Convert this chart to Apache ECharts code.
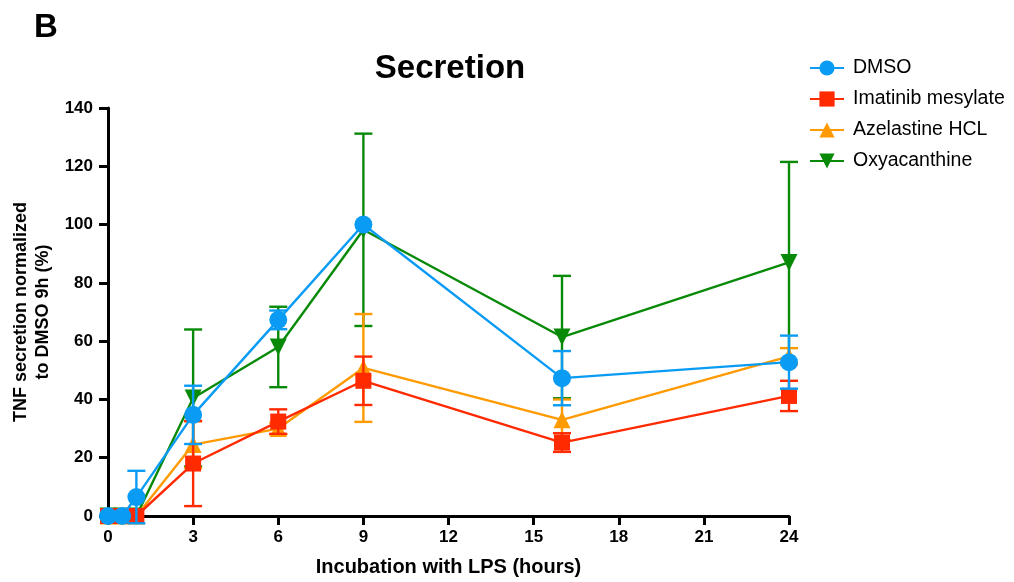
<!DOCTYPE html>
<html>
<head>
<meta charset="utf-8">
<script src="https://cdn.jsdelivr.net/npm/echarts@6/dist/echarts.min.js"></script>
<style>html,body{margin:0;padding:0;background:#fff}#c{width:1014px;height:582px}</style>
</head>
<body>
<div id="c"></div>
<script>
const times = [0, 0.5, 1, 3, 6, 9, 16, 24];
const seriesNames = ['DMSO', 'Imatinib mesylate', 'Azelastine HCL', 'Oxyacanthine'];
const dmsoMean = [0, 0, 6.5, 34.7, 67.3, 100, 47.3, 52.8];
const dmsoErr  = [0, 0, 9, 10, 3.2, 0, 9.3, 9.1];
const imaMean  = [0, 0, 0, 18, 32.4, 46.4, 25.2, 41.2];
const imaErr   = [0, 0, 0, 14.6, 4.2, 8.3, 3.2, 5.2];
const azeMean  = [0, 0, 0, 24.5, 30, 50.8, 33, 54.8];
const azeErr   = [0, 0, 0, 8, 2, 18.5, 7, 2.8];
const oxyMean  = [0, 0, 0, 40.5, 58, 98.2, 61.4, 87];
const oxyErr   = [0, 0, 0, 23.5, 13.8, 33, 21, 34.5];
const xTicks = [0, 3, 6, 9, 12, 15, 18, 21, 24];
const yTicks = [0, 20, 40, 60, 80, 100, 120, 140];

const colors = ['#0a9bf5', '#ff2a00', '#ff9a00', '#088a08'];
const symbols = ['circle', 'rect', 'triangle', 'triangle'];
const rot = [0, 0, 0, 180];
const sizes = [18, 16, 17, 17];
const means = [dmsoMean, imaMean, azeMean, oxyMean];
const errs = [dmsoErr, imaErr, azeErr, oxyErr];
const zOrder = [40, 30, 20, 10];
const FONT = '"Liberation Sans", Arial, sans-serif';

const series = [];
seriesNames.forEach((name, i) => {
  series.push({
    name: name,
    type: 'line',
    data: times.map((t, k) => [t, means[i][k]]),
    symbol: symbols[i],
    symbolRotate: rot[i],
    symbolSize: sizes[i],
    showAllSymbol: true,
    lineStyle: { color: colors[i], width: 2.4 },
    itemStyle: { color: colors[i] },
    z: zOrder[i] + 2,
    animation: false
  });
  series.push({
    name: name,
    type: 'custom',
    data: times.map((t, k) => [t, means[i][k], errs[i][k]]),
    z: zOrder[i],
    renderItem: function (params, api) {
      const x = api.value(0), m = api.value(1), e = api.value(2);
      if (!e) return;
      const top = api.coord([x, m + e]);
      const bot = api.coord([x, m - e]);
      const hw = 9;
      const st = { stroke: colors[i], lineWidth: 2.4 };
      return {
        type: 'group',
        children: [
          { type: 'line', shape: { x1: top[0], y1: top[1], x2: bot[0], y2: bot[1] }, style: st },
          { type: 'line', shape: { x1: top[0] - hw, y1: top[1], x2: top[0] + hw, y2: top[1] }, style: st },
          { type: 'line', shape: { x1: bot[0] - hw, y1: bot[1], x2: bot[0] + hw, y2: bot[1] }, style: st }
        ]
      };
    },
    animation: false
  });
});

const chart = echarts.init(document.getElementById('c'));
chart.setOption({
  backgroundColor: '#fff',
  animation: false,
  graphic: [
    { type: 'text', left: 34, top: 11, style: { text: 'B', font: 'bold 33px ' + FONT, fill: '#000' } }
  ],
  title: {
    text: 'Secretion',
    left: 445, top: 47, textAlign: 'center',
    textStyle: { fontFamily: FONT, fontWeight: 'bold', fontSize: 33, color: '#000' }
  },
  legend: {
    orient: 'vertical',
    left: 804, top: 53,
    itemWidth: 34, itemHeight: 19, itemGap: 11,
    data: seriesNames,
    textStyle: { fontFamily: FONT, fontSize: 19.5, color: '#000', padding: [0, 0, 0, 4] }
  },
  grid: { left: 108, right: 225, top: 108, bottom: 66, containLabel: false },
  xAxis: {
    type: 'value', min: 0, max: 24, interval: 3,
    name: 'Incubation with LPS (hours)', nameLocation: 'middle', nameGap: 41,
    nameTextStyle: { fontFamily: FONT, fontWeight: 'bold', fontSize: 20, color: '#000' },
    axisLine: { lineStyle: { color: '#000', width: 3 } },
    axisTick: { show: true, length: 9, lineStyle: { color: '#000', width: 3 } },
    axisLabel: { fontFamily: FONT, fontWeight: 'bold', fontSize: 17, color: '#000', margin: 13,
      formatter: v => xTicks.includes(v) ? String(v) : '' },
    splitLine: { show: false }
  },
  yAxis: {
    type: 'value', min: 0, max: 140, interval: 20,
    name: 'TNF secretion normalized\nto DMSO 9h (%)', nameLocation: 'middle', nameGap: 54,
    nameTextStyle: { fontFamily: FONT, fontWeight: 'bold', fontSize: 18, color: '#000', lineHeight: 22 },
    axisLine: { show: true, lineStyle: { color: '#000', width: 3 } },
    axisTick: { show: true, length: 9, lineStyle: { color: '#000', width: 3 } },
    axisLabel: { fontFamily: FONT, fontWeight: 'bold', fontSize: 17, color: '#000', margin: 15,
      formatter: v => yTicks.includes(v) ? String(v) : '' },
    splitLine: { show: false }
  },
  series: series
});
</script>
</body>
</html>
